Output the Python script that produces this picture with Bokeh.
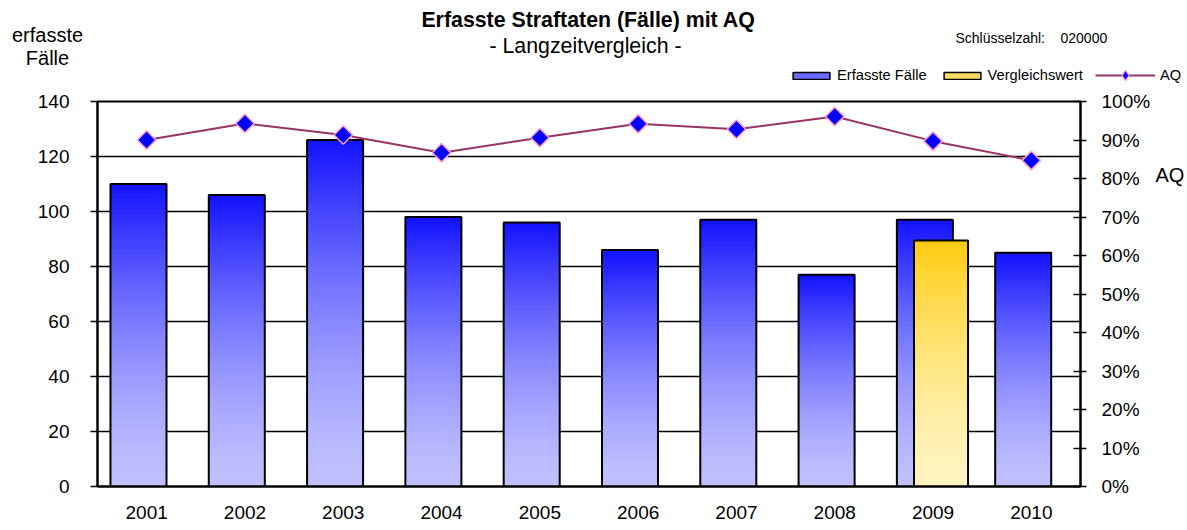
import numpy as np
from bokeh.plotting import figure
from bokeh.layouts import column
from bokeh.models import (Range1d, LinearAxis, FixedTicker, NumeralTickFormatter,
                          CustomJSTickFormatter, Label, Legend, LegendItem,
                          ColumnDataSource)
from bokeh.embed import file_html
from bokeh.resources import INLINE

# ---------------- data ----------------
years = [2001, 2002, 2003, 2004, 2005, 2006, 2007, 2008, 2009, 2010]
erfasste_faelle = [110, 106, 126, 98, 96, 86, 97, 77, 97, 85]
vergleich_jahr = [2009]
vergleich_wert = [89.5]
aq = [0.900, 0.943, 0.913, 0.867, 0.906, 0.942, 0.928, 0.961, 0.897, 0.847]
left_ticks = [0, 20, 40, 60, 80, 100, 120, 140]
right_ticks = [0.0, 0.1, 0.2, 0.3, 0.4, 0.5, 0.6, 0.7, 0.8, 0.9, 1.0]
aq_label_pos = [0.808]

FONT = "Liberation Sans"
W = 1187
TOP_H = 88
MAIN_H = 530 - TOP_H
FR_L, FR_R = 97, 1080
FR_T, FR_B = 101 - TOP_H, 486 - TOP_H  # frame inside main figure

# ---------------- top strip (titles + legend) ----------------
top = figure(width=W, height=TOP_H, output_backend="svg", toolbar_location=None,
             x_range=Range1d(0, W), y_range=Range1d(TOP_H, 0),
             x_axis_type=None, y_axis_type=None,
             min_border_left=0, min_border_right=0, min_border_top=0,
             min_border_bottom=0, outline_line_color=None,
             background_fill_color="white", border_fill_color="white")
top.frame_align = False
top.grid.visible = False


def lab(text, x, y, size, bold=False, align="center"):
    top.add_layout(Label(x=x, y=y, text=text, text_font=FONT,
                         text_font_size=size,
                         text_font_style="bold" if bold else "normal",
                         text_align=align, text_baseline="middle",
                         text_color="black"))


lab("Erfasste Straftaten (Fälle) mit AQ", 588, 19, "16pt", bold=True)
lab("- Langzeitvergleich -", 585, 45, "16pt")
lab("erfasste", 47, 34, "15pt")
lab("Fälle", 47, 57, "15pt")
lab("Schlüsselzahl:", 955, 37, "14px", align="left")
lab("020000", 1060, 37, "14px", align="left")

# legend-only renderers (outside the visible range)
r_lb = top.quad(left=[10], right=[20], bottom=[-30], top=[-20],
                fill_color="#6a6aff", line_color="black", line_width=1.5)
r_ly = top.quad(left=[10], right=[20], bottom=[-30], top=[-20],
                fill_color="#ffdc66", line_color="black", line_width=1.5)
r_ll = top.line([10, 20], [-30, -30], line_color="#993366", line_width=2)
r_lm = top.scatter([10], [-30], marker="diamond", size=10,
                   fill_color="#0000FF", line_color="#FF99CC", line_width=1.2)

leg_common = dict(orientation="horizontal", padding=0, margin=0,
                  border_line_color=None, background_fill_alpha=0,
                  label_text_font=FONT, label_text_font_size="11pt",
                  label_text_color="black", label_text_baseline="middle")
# legend location = bottom-left corner, measured from the strip's bottom
legend1 = Legend(items=[LegendItem(label="Erfasste Fälle", renderers=[r_lb]),
                        LegendItem(label="Vergleichswert", renderers=[r_ly])],
                 location=(788, TOP_H - 83), glyph_width=46, glyph_height=9,
                 label_standoff=3, spacing=12, label_height=16, **leg_common)
legend2 = Legend(items=[LegendItem(label="AQ", renderers=[r_ll, r_lm])],
                 location=(1095, TOP_H - 88), glyph_width=60, glyph_height=26,
                 label_standoff=5, label_height=26, **leg_common)
top.add_layout(legend1)
top.add_layout(legend2)

# ---------------- main chart ----------------
p = figure(width=W, height=MAIN_H, output_backend="svg", toolbar_location=None,
           x_range=Range1d(2000.5, 2010.5), y_range=Range1d(0, 140),
           min_border_left=FR_L, min_border_right=W - FR_R,
           min_border_top=FR_T, min_border_bottom=MAIN_H - FR_B,
           background_fill_color="white", border_fill_color="white")
p.frame_align = False
p.outline_line_color = "black"
p.outline_line_width = 2
p.xgrid.visible = False
p.ygrid.ticker = FixedTicker(ticks=left_ticks)
p.ygrid.grid_line_color = "black"
p.ygrid.grid_line_width = 1.6

ya = p.yaxis[0]
ya.ticker = FixedTicker(ticks=left_ticks)
ya.axis_line_color = "black"
ya.axis_line_width = 2
ya.major_tick_in = 0
ya.major_tick_out = 7
ya.major_tick_line_width = 1.5
ya.minor_tick_line_color = None
ya.major_label_standoff = 21
ya.major_label_text_font = FONT
ya.major_label_text_font_size = "19px"
ya.major_label_text_color = "black"

xa = p.xaxis[0]
xa.ticker = FixedTicker(ticks=years)
xa.axis_line_color = "black"
xa.axis_line_width = 2
xa.major_tick_line_color = None
xa.minor_tick_line_color = None
xa.major_tick_in = 0
xa.major_tick_out = 0
xa.major_label_standoff = 19
xa.major_label_text_font = FONT
xa.major_label_text_font_size = "19px"
xa.major_label_text_color = "black"

p.extra_y_ranges = {"aq": Range1d(0, 1)}
ra = LinearAxis(y_range_name="aq", ticker=FixedTicker(ticks=right_ticks),
                formatter=NumeralTickFormatter(format="0%"))
ra.axis_line_color = "black"
ra.axis_line_width = 2
ra.major_tick_in = 7
ra.major_tick_out = 6
ra.major_tick_line_width = 1.5
ra.minor_tick_line_color = None
ra.major_label_standoff = 15
ra.major_label_text_font = FONT
ra.major_label_text_font_size = "19px"
ra.major_label_text_color = "black"
p.add_layout(ra, "right")

# "AQ" caption next to the right axis
ra2 = LinearAxis(y_range_name="aq", ticker=FixedTicker(ticks=aq_label_pos),
                 formatter=CustomJSTickFormatter(code="return 'AQ';"))
ra2.axis_line_color = None
ra2.major_tick_line_color = None
ra2.minor_tick_line_color = None
ra2.major_tick_in = 0
ra2.major_tick_out = 0
ra2.major_label_standoff = 2
ra2.major_label_text_font = FONT
ra2.major_label_text_font_size = "15pt"
ra2.major_label_text_color = "black"
p.add_layout(ra2, "right")


def gradient_source(xc, vals, width, top_rgb, bot_rgb, n=60, power=1.5):
    L, R, B, T, C = [], [], [], [], []
    for x, v in zip(xc, vals):
        for i in range(n):
            f = (i + 0.5) / n
            t = 1 - f ** power
            rgb = tuple(int(round(a + (b - a) * t)) for a, b in zip(top_rgb, bot_rgb))
            L.append(x - width / 2)
            R.append(x + width / 2)
            B.append(v * i / n)
            T.append(v)
            C.append("#%02x%02x%02x" % rgb)
    return ColumnDataSource(dict(left=L, right=R, bottom=B, top=T, color=C))


BLUE_OFF, BAR_W = -0.083, 0.57
YEL_OFF, YEL_W = 0.081, 0.55
xb = [y + BLUE_OFF for y in years]
xy = [y + YEL_OFF for y in vergleich_jahr]

p.quad(left="left", right="right", bottom="bottom", top="top", fill_color="color",
       line_color=None, source=gradient_source(xb, erfasste_faelle, BAR_W,
                                               (18, 18, 255), (192, 192, 255)))
p.quad(left=[x - BAR_W / 2 for x in xb], right=[x + BAR_W / 2 for x in xb],
       bottom=[0] * len(xb), top=erfasste_faelle, fill_color=None,
       line_color="black", line_width=2)

p.quad(left="left", right="right", bottom="bottom", top="top", fill_color="color",
       line_color=None, source=gradient_source(xy, vergleich_wert, YEL_W,
                                               (255, 204, 16), (255, 244, 192)))
p.quad(left=[x - YEL_W / 2 for x in xy], right=[x + YEL_W / 2 for x in xy],
       bottom=[0] * len(xy), top=vergleich_wert, fill_color=None,
       line_color="black", line_width=2)

p.line(years, aq, y_range_name="aq", line_color="#993366", line_width=2)
p.scatter(years, aq, y_range_name="aq", marker="square", size=13,
          angle=np.pi / 4, fill_color="#0000FF", line_color="#FF99CC",
          line_width=1.5)

layout = column(top, p, spacing=0)
open("out.html", "w").write(file_html(layout, INLINE))
